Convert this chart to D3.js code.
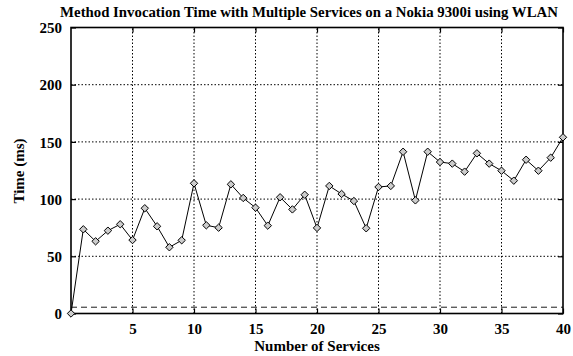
<!DOCTYPE html>
<html><head><meta charset="utf-8">
<script src="https://cdn.jsdelivr.net/npm/d3@7"></script>
<style>body{margin:0;background:#fff}text{font-family:"Liberation Serif","Times New Roman",serif;}</style>
</head><body>
<svg id="c" width="573" height="356"></svg>
<script>
const services = d3.range(0, 41);
const times = [0, 73.6, 63.1, 72.4, 78, 64.2, 92, 76.2, 57.9, 64, 113.8, 77.1, 75, 112.9, 101, 92.5, 76.8, 101.6, 91, 103.8, 74.8, 111.5, 104.5, 98.3, 74.5, 110.6, 111.5, 141.4, 98.9, 141.4, 132.4, 131, 124, 140, 131, 124.8, 116.1, 134.4, 124.8, 136.2, 154];
const baseline = [5.5];
const xTicks = [5, 10, 15, 20, 25, 30, 35, 40];
const yTicks = [0, 50, 100, 150, 200, 250];

const svg = d3.select("#c");
const L = 71, R = 563, T = 27.5, B = 313.5;
const x = d3.scaleLinear().domain([0, 40]).range([L, R]);
const y = d3.scaleLinear().domain([0, 250]).range([B, T]);

// grid
const g = svg.append("g");
g.selectAll(".gx").data(xTicks.filter(d => d < 40)).enter().append("line")
  .attr("x1", d => x(d)).attr("x2", d => x(d)).attr("y1", B).attr("y2", T)
  .attr("stroke", "#000").attr("stroke-width", 1).attr("stroke-dasharray", "1.5,2");
g.selectAll(".gy").data(yTicks.filter(d => d > 0 && d < 250)).enter().append("line")
  .attr("x1", L).attr("x2", R).attr("y1", d => y(d)).attr("y2", d => y(d))
  .attr("stroke", "#000").attr("stroke-width", 1).attr("stroke-dasharray", "1.5,2");

// baseline dashed
svg.selectAll(".base").data(baseline).enter().append("line")
  .attr("x1", L).attr("x2", R).attr("y1", d => y(d)).attr("y2", d => y(d))
  .attr("stroke", "#000").attr("stroke-width", 0.9).attr("stroke-dasharray", "6,4");

// axes with inward ticks
const xb = svg.append("g").attr("transform", `translate(0,${B})`)
  .call(d3.axisBottom(x).tickValues(xTicks).tickSizeInner(-5).tickSizeOuter(0).tickPadding(9).tickFormat(d3.format("d")));
const xt = svg.append("g").attr("transform", `translate(0,${T})`)
  .call(d3.axisTop(x).tickValues(xTicks).tickSizeInner(-5).tickSizeOuter(0).tickFormat(""));
const yl = svg.append("g").attr("transform", `translate(${L},0)`)
  .call(d3.axisLeft(y).tickValues(yTicks).tickSizeInner(-5).tickSizeOuter(0).tickPadding(9));
const yr = svg.append("g").attr("transform", `translate(${R},0)`)
  .call(d3.axisRight(y).tickValues(yTicks).tickSizeInner(-5).tickSizeOuter(0).tickFormat(""));
[xb, xt, yl, yr].forEach(a => {
  a.select(".domain").remove();
  a.selectAll("line").attr("stroke", "#000").attr("stroke-width", 1.2);
  a.selectAll("text").attr("font-family", "Liberation Serif, serif").attr("font-size", 15).attr("font-weight", "bold").attr("fill", "#000");
});
yl.selectAll("text").attr("dy", "0.35em");
xb.selectAll("text").attr("dy", "0.75em");

// frame
svg.append("rect").attr("x", L).attr("y", T).attr("width", R - L).attr("height", B - T)
  .attr("fill", "none").attr("stroke", "#000").attr("stroke-width", 1.6);

// line
const line = d3.line().x((d, i) => x(services[i])).y(d => y(d));
svg.append("path").datum(times).attr("d", line).attr("fill", "none").attr("stroke", "#000").attr("stroke-width", 1);

// markers (diamonds)
svg.selectAll(".m").data(times).enter().append("path")
  .attr("transform", (d, i) => `translate(${x(services[i])},${y(d)})`)
  .attr("d", "M0,-3.7L3.7,0L0,3.7L-3.7,0Z")
  .attr("fill", "#ccc").attr("stroke", "#000").attr("stroke-width", 1);

// title & labels
svg.append("text").attr("x", 309).attr("y", 17).attr("text-anchor", "middle")
  .attr("font-size", 14.8).attr("font-weight", "bold").text("Method Invocation Time with Multiple Services on a Nokia 9300i using WLAN");
svg.append("text").attr("x", 317).attr("y", 351).attr("text-anchor", "middle")
  .attr("font-size", 15).attr("font-weight", "bold").text("Number of Services");
svg.append("text").attr("transform", "translate(24,171) rotate(-90)").attr("text-anchor", "middle")
  .attr("font-size", 15).attr("font-weight", "bold").text("Time (ms)");
</script>
</body></html>
